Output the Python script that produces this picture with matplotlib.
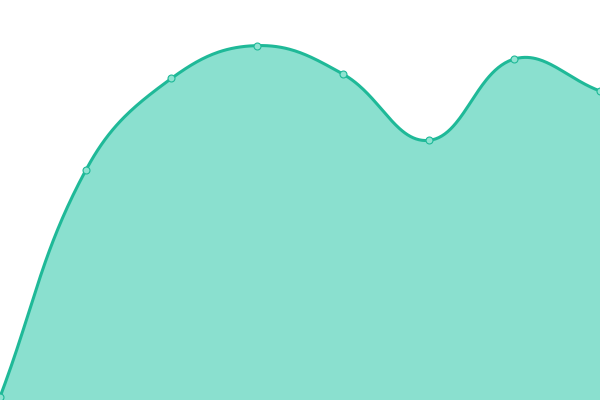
import numpy as np
import matplotlib
matplotlib.use("Agg")
import matplotlib.pyplot as plt

labels = ["A", "B", "C", "D", "E", "F", "G", "H"]
values = [0.75, 57.4, 80.4, 88.6, 81.5, 64.9, 85.25, 77.25]

line_color = "#1fb998"
fill_color = "#8ae0cf"
point_fill = "#8fe3d1"
tension = 0.4

fig = plt.figure(figsize=(6, 4), dpi=100)
ax = fig.add_axes([0, 0, 1, 1])
x = np.arange(len(values))
ax.set_xlim(0, len(values) - 1)
ax.set_ylim(0, 100)
ax.axis("off")

# Chart.js style spline computed in display space
pts = ax.transData.transform(np.column_stack([x, values]))
n = len(pts)
cp_prev = np.zeros_like(pts)
cp_next = np.zeros_like(pts)
for i in range(n):
    p = pts[i]
    prev = pts[i - 1] if i > 0 else p
    nxt = pts[i + 1] if i < n - 1 else p
    d01 = np.hypot(*(p - prev))
    d12 = np.hypot(*(nxt - p))
    tot = d01 + d12
    s01 = d01 / tot if tot else 0
    s12 = d12 / tot if tot else 0
    fa = tension * s01
    fb = tension * s12
    cp_prev[i] = p - fa * (nxt - prev)
    cp_next[i] = p + fb * (nxt - prev)

curve = []
t = np.linspace(0, 1, 60)[:, None]
for i in range(n - 1):
    p0, p1, p2, p3 = pts[i], cp_next[i], cp_prev[i + 1], pts[i + 1]
    seg = ((1 - t) ** 3) * p0 + 3 * ((1 - t) ** 2) * t * p1 + 3 * (1 - t) * t ** 2 * p2 + t ** 3 * p3
    curve.append(seg if i == 0 else seg[1:])
curve = np.vstack(curve)
cdata = ax.transData.inverted().transform(curve)

ax.fill_between(cdata[:, 0], cdata[:, 1], 0, color=fill_color, lw=0)
ax.plot(cdata[:, 0], cdata[:, 1], color=line_color, lw=2.2, solid_capstyle="round")
ax.plot(x, values, "o", ms=5, mfc=point_fill, mec=line_color, mew=0.8)

fig.savefig("out.png", dpi=100)
